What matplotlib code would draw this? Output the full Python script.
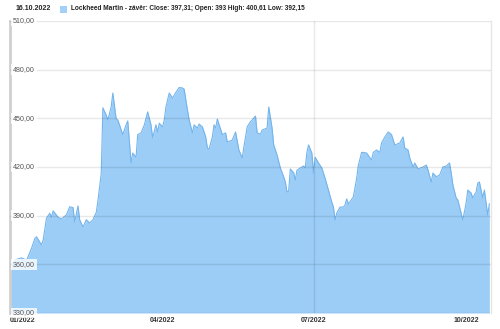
import numpy as np
import pandas as pd
import matplotlib
matplotlib.use('Agg')
import matplotlib.pyplot as plt
import matplotlib.dates as mdates
import matplotlib.patches as mpatches
import matplotlib.transforms as mtransforms

# Lockheed Martin close
dates = ['2021-12-30', '2022-01-02', '2022-01-06', '2022-01-08', '2022-01-09', '2022-01-12',
         '2022-01-14', '2022-01-15', '2022-01-18', '2022-01-19', '2022-01-21', '2022-01-23',
         '2022-01-24', '2022-01-25', '2022-01-28', '2022-01-30', '2022-02-02', '2022-02-04',
         '2022-02-06', '2022-02-07', '2022-02-09', '2022-02-10', '2022-02-12', '2022-02-14',
         '2022-02-16', '2022-02-18', '2022-02-20', '2022-02-21', '2022-02-23', '2022-02-24',
         '2022-02-26', '2022-02-27', '2022-03-01', '2022-03-02', '2022-03-04', '2022-03-05',
         '2022-03-08', '2022-03-10', '2022-03-11', '2022-03-13', '2022-03-14', '2022-03-16',
         '2022-03-17', '2022-03-19', '2022-03-21', '2022-03-23', '2022-03-25', '2022-03-26',
         '2022-03-28', '2022-03-29', '2022-03-30', '2022-04-01', '2022-04-02', '2022-04-03',
         '2022-04-05', '2022-04-07', '2022-04-09', '2022-04-11', '2022-04-13', '2022-04-14',
         '2022-04-16', '2022-04-17', '2022-04-19', '2022-04-20', '2022-04-22', '2022-04-23',
         '2022-04-25', '2022-04-27', '2022-04-28', '2022-04-29', '2022-05-01', '2022-05-02',
         '2022-05-03', '2022-05-04', '2022-05-07', '2022-05-09', '2022-05-10', '2022-05-13',
         '2022-05-15', '2022-05-17', '2022-05-19', '2022-05-20', '2022-05-22', '2022-05-24',
         '2022-05-25', '2022-05-27', '2022-05-28', '2022-05-30', '2022-05-31', '2022-06-03',
         '2022-06-04', '2022-06-06', '2022-06-07', '2022-06-09', '2022-06-11', '2022-06-13',
         '2022-06-14', '2022-06-15', '2022-06-16', '2022-06-17', '2022-06-19', '2022-06-20',
         '2022-06-21', '2022-06-23', '2022-06-25', '2022-06-26', '2022-06-27', '2022-06-28',
         '2022-06-30', '2022-07-01', '2022-07-02', '2022-07-04', '2022-07-06', '2022-07-08',
         '2022-07-10', '2022-07-12', '2022-07-13', '2022-07-14', '2022-07-15', '2022-07-17',
         '2022-07-19', '2022-07-20', '2022-07-21', '2022-07-22', '2022-07-25', '2022-07-27',
         '2022-07-28', '2022-07-30', '2022-07-31', '2022-08-02', '2022-08-05', '2022-08-06',
         '2022-08-08', '2022-08-10', '2022-08-11', '2022-08-13', '2022-08-15', '2022-08-17',
         '2022-08-19', '2022-08-22', '2022-08-24', '2022-08-25', '2022-08-27', '2022-08-28',
         '2022-08-30', '2022-08-31', '2022-09-02', '2022-09-05', '2022-09-07', '2022-09-08',
         '2022-09-10', '2022-09-11', '2022-09-13', '2022-09-15', '2022-09-17', '2022-09-19',
         '2022-09-21', '2022-09-22', '2022-09-23', '2022-09-25', '2022-09-26', '2022-09-28',
         '2022-09-29', '2022-10-01', '2022-10-02', '2022-10-04', '2022-10-05', '2022-10-07',
         '2022-10-08', '2022-10-09', '2022-10-11', '2022-10-12', '2022-10-14', '2022-10-15']

close = [358.0, 362.7, 364.0, 363.0, 362.5, 370.0,
         376.0, 377.0, 372.0, 375.0, 388.5, 391.5,
         389.0, 393.0, 389.0, 388.0, 390.5, 395.5,
         395.0, 386.0, 396.0, 387.5, 383.0, 387.5,
         385.5, 387.5, 392.0, 399.0, 416.0, 456.5,
         452.0, 449.0, 457.0, 465.6, 449.6, 449.0,
         440.0, 446.0, 448.4, 422.5, 428.6, 426.0,
         440.0, 441.0, 446.0, 454.0, 446.0, 438.0,
         446.0, 441.6, 447.0, 444.7, 449.0, 457.0,
         465.6, 462.5, 466.0, 469.0, 468.7, 468.0,
         455.0, 449.0, 441.0, 446.0, 444.0, 446.5,
         444.7, 438.5, 431.7, 431.0, 438.5, 446.0,
         444.0, 449.6, 440.0, 441.0, 435.4, 436.6,
         441.6, 430.5, 425.6, 432.3, 444.7, 448.0,
         449.0, 451.4, 441.0, 440.3, 442.8, 444.0,
         457.0, 444.0, 433.6, 427.4, 419.4, 414.0,
         410.8, 404.6, 405.0, 418.8, 416.5, 412.0,
         418.0, 419.4, 420.6, 419.4, 429.0, 433.6,
         428.6, 416.3, 426.0, 422.5, 419.4, 413.0,
         405.8, 398.4, 395.3, 387.3, 391.6, 395.3,
         395.3, 396.6, 400.3, 397.2, 401.5, 413.0,
         421.0, 429.0, 429.0, 428.6, 424.3, 429.0,
         430.5, 429.0, 434.8, 438.5, 441.6, 440.0,
         433.6, 434.8, 438.5, 431.7, 430.5, 425.6,
         420.0, 422.5, 418.8, 420.0, 421.2, 418.2,
         410.8, 416.3, 414.0, 415.0, 420.0, 420.6,
         422.5, 416.3, 409.0, 400.9, 399.7, 391.6,
         387.3, 397.8, 405.8, 404.0, 400.9, 404.6,
         410.0, 410.8, 400.9, 405.8, 390.4, 397.3]

y_ticks = [330, 360, 390, 420, 450, 480, 510]
y_labels = ['330,00', '360,00', '390,00', '420,00', '450,00', '480,00', '510,00']
x_ticks = ['2022-04-01', '2022-07-01', '2022-10-01']
x_labels = ['04/2022', '07/2022', '10/2022']

header_date = '16.10.2022'
legend_text = 'Lockheed Martin - závěr: Close: 397,31; Open: 393 High: 400,61 Low: 392,15'

plt.rcParams['font.family'] = ['Liberation Sans', 'DejaVu Sans']

fill_color = '#9ccdf6'
edge_color = '#74b5ec'

dates = pd.to_datetime(dates)

fig = plt.figure(figsize=(5, 3.29), dpi=100)
ax = fig.add_axes([0.02, 0.0486, 0.962, 0.8876])

ax.fill_between(dates, close, 330, color=fill_color, lw=0, zorder=1)
ax.plot(dates, close, color=edge_color, lw=0.8, zorder=2)

for yt in y_ticks:
    ax.axhline(yt, color='black', alpha=0.09, lw=1, zorder=3)
ax.axvline(pd.Timestamp('2022-07-01'), color='black', alpha=0.09, lw=1, zorder=3)

trans = mtransforms.blended_transform_factory(ax.transAxes, ax.transData)
for yt, lab in zip(y_ticks, y_labels):
    ax.text(0.006, yt, lab, transform=trans, fontsize=5.1, color='#555555',
            ha='left', va='center', zorder=5,
            bbox=dict(boxstyle='square,pad=0.25', fc='white', ec='none', alpha=0.8))

ax.set_xlim(dates[0], dates[-1] + pd.Timedelta(days=1))
ax.set_ylim(330, 510)
ax.set_yticks([])

ax.set_xticks([dates[0]] + list(pd.to_datetime(x_ticks)))
ax.set_xticklabels(['01/2022'] + x_labels, fontsize=5, fontweight='bold', color='#333333')
first = ax.get_xticklabels()[0]
first.set_horizontalalignment('left')
first.set_transform(first.get_transform() +
                    mtransforms.ScaledTranslation(2 / 100, 0, fig.dpi_scale_trans))
ax.tick_params(axis='x', length=0, pad=3)

ax.spines['bottom'].set_visible(False)
ax.spines['top'].set_visible(False)
ax.spines['left'].set_color('#cfcfcf')
ax.spines['left'].set_linewidth(2)
ax.spines['right'].set_color('#e6e6e6')
ax.spines['right'].set_linewidth(1)

fig.text(16 / 500, 1 - 9 / 329, header_date, fontsize=5, fontweight='bold',
         color='#222222', ha='left', va='center')
fig.patches.append(mpatches.Rectangle((59.5 / 500, 1 - 13 / 329), 7.5 / 500, 7 / 329,
                                      transform=fig.transFigure, fc='#a3d0f7', ec='none'))
fig.text(71 / 500, 1 - 9 / 329, legend_text, fontsize=4.7, fontweight='bold',
         color='#222222', ha='left', va='center')

fig.savefig('out.png', dpi=100)
